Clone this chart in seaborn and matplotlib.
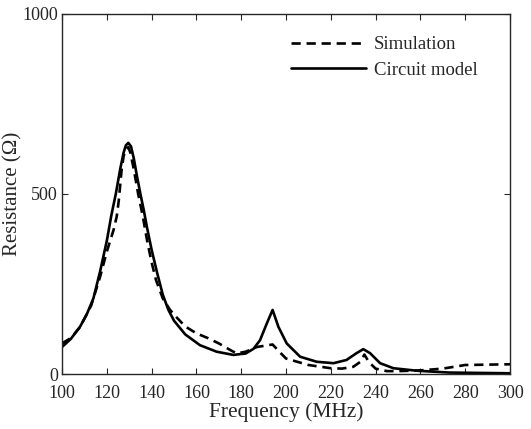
import matplotlib
matplotlib.use('Agg')
import pandas as pd
import numpy as np
import matplotlib.pyplot as plt
import seaborn as sns

# values
circ_freq = [100, 104, 108, 111, 114, 117, 120, 122, 124, 126, 127.5, 128.5, 129.6, 130.8,
             132, 133.5, 135, 136.5, 138, 140, 142.5, 145, 147.5, 150, 155, 161.6, 169,
             176.5, 182, 185.5, 188.4, 191.4, 194, 196.6, 200.3, 206.3, 213.7, 221.2, 227,
             231.5, 234.5, 237.5, 242, 248, 258.5, 273, 300]
circ_res = [75, 98, 131, 165, 210, 285, 370, 440, 500, 570, 615, 635, 642, 632,
            600, 548, 500, 455, 405, 345, 280, 220, 178, 148, 110, 80, 62,
            53, 57, 70, 94, 140, 178, 131, 85, 48, 34, 30, 39,
            58, 69, 58, 30, 16, 9, 4, 2]

sim_freq = [100, 104, 108, 113, 117, 120, 122, 123, 124.4, 125.3, 125.9, 126.6, 127.5,
            128.5, 129.6, 130.5, 132, 134, 136, 138, 140, 142, 145, 148, 150, 155, 160,
            165, 170, 175, 178, 182, 187, 192, 194, 197, 200, 205, 210, 220, 225, 230,
            233, 235, 237, 240, 245, 250, 260, 270, 275, 280, 290, 300]
sim_res = [85, 100, 130, 190, 270, 340, 380, 400, 437, 480, 520, 567, 605,
           625, 630, 615, 570, 500, 440, 370, 310, 260, 210, 180, 165, 132, 113,
           100, 85, 67, 57, 62, 75, 80, 82, 62, 43, 34, 25, 16, 15, 20,
           33, 54, 33, 15, 8, 8, 10, 15, 20, 25, 26, 27]

df = pd.concat([
    pd.DataFrame({'freq': sim_freq, 'res': sim_res, 'series': 'Simulation'}),
    pd.DataFrame({'freq': circ_freq, 'res': circ_res, 'series': 'Circuit model'}),
])

sns.set_style('ticks')
plt.rcParams['font.family'] = ['Liberation Serif', 'DejaVu Serif']

fig = plt.figure(figsize=(5.31, 4.29), dpi=100)
ax = fig.add_axes([0.1168, 0.1282, 0.8437, 0.8392])

sns.lineplot(data=df, x='freq', y='res', hue='series', style='series',
             palette={'Simulation': 'black', 'Circuit model': 'black'},
             dashes={'Simulation': (3.5, 2.2), 'Circuit model': ''},
             linewidth=1.9, ax=ax, sort=False)

ax.set_xlim(100, 300)
ax.set_ylim(0, 1000)
ax.set_xticks(np.arange(100, 301, 20))
ax.set_yticks([0, 500, 1000])
ax.tick_params(direction='in', top=True, right=True, labelsize=13, length=4, width=0.8)
ax.tick_params(axis='x', pad=8)
ax.tick_params(axis='y', pad=3)
for s in ax.spines.values():
    s.set_linewidth(1.0)
ax.set_xlabel('Frequency (MHz)', fontsize=15.5, labelpad=0)
ax.set_ylabel('Resistance (Ω)', fontsize=15, labelpad=0)

leg = ax.legend(frameon=False, fontsize=13.5, handlelength=4.0, loc='upper right',
                bbox_to_anchor=(0.965, 0.985), handletextpad=0.4, labelspacing=0.45,
                title=None)

plt.savefig('out.png', dpi=100)
